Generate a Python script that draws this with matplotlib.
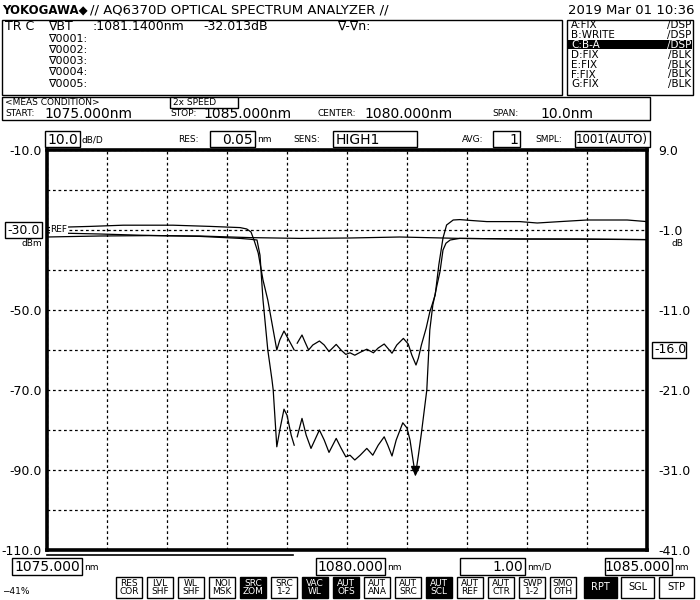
import matplotlib
matplotlib.use("Agg")
import matplotlib.pyplot as plt
import matplotlib.transforms as mtransforms
from matplotlib.patches import Rectangle
import numpy as np

# Шрифт прибора узкий, поэтому пробуем узкие семейства
FONT = ['Liberation Sans Narrow', 'DejaVu Sans']
plt.rcParams['font.family'] = FONT

nan = np.nan

# Трасса A - опорный спектр (почти ровная)
wl_a = [1075.00, 1075.88, 1076.72, 1077.55, 1078.38, 1079.22, 1080.05, 1080.88,
        1081.88, 1082.88, 1083.88, 1085.00]
lv_a = [-31.75, -31.50, -31.40, -31.50, -31.90, -32.10, -32.00, -31.75,
        -32.10, -32.25, -32.25, -32.40]

# Трасса B - глубокий провал
wl_b = [1075.00, 1075.88, 1076.55, 1077.55, 1078.22, 1078.38, 1078.50, 1078.55,
        1078.60, 1078.68, 1078.75, 1078.77, 1078.83, 1078.88, 1078.95, 1079.00,
        1079.07, 1079.12, nan, 1079.17, 1079.25, 1079.32, 1079.40, 1079.54,
        1079.62, 1079.70, 1079.82, 1079.90, 1079.98, 1080.05, 1080.13, 1080.22,
        1080.33, 1080.43, 1080.52, 1080.62, 1080.68, 1080.75, 1080.82, 1080.93,
        1081.00, 1081.05, 1081.10, 1081.14, 1081.19, 1081.24, 1081.33, 1081.38,
        1081.43, 1081.50, 1081.55, 1081.60, 1081.65, 1081.72, 1081.88, 1082.88,
        1083.88, 1085.00]
lv_b = [-30.7, -31.0, -31.3, -31.6, -32.1, -32.3, -32.5, -36.3,
        -47.5, -60.0, -67.5, -70.0, -84.2, -80.0, -74.8, -76.3,
        -81.3, -83.8, nan, -81.7, -77.1, -81.3, -84.6, -80.0,
        -82.5, -85.6, -82.1, -84.5, -86.7, -86.3, -87.5, -86.3,
        -84.6, -86.3, -83.8, -81.7, -83.8, -86.5, -82.5, -78.2,
        -79.5, -82.5, -87.5, -91.3, -86.3, -80.8, -70.0, -55.0,
        -48.8, -43.8, -40.4, -35.0, -33.3, -32.5, -32.1, -32.25,
        -32.3, -32.4]

# Трасса C - верхний провал
wl_c = [1075.00, 1075.72, 1076.27, 1077.10, 1077.72, 1078.22, 1078.33, 1078.40,
        1078.45, 1078.52, 1078.60, 1078.68, 1078.77, 1078.83, 1078.88, 1078.95,
        1079.03, 1079.12, nan, 1079.17, 1079.25, 1079.30, 1079.36, 1079.43,
        1079.54, 1079.62, 1079.70, 1079.82, 1079.90, 1079.98, 1080.05, 1080.13,
        1080.23, 1080.33, 1080.44, 1080.52, 1080.62, 1080.75, 1080.83, 1080.94,
        1081.02, 1081.08, 1081.15, 1081.19, 1081.24, 1081.32, 1081.38, 1081.47,
        1081.53, 1081.60, 1081.66, 1081.77, 1081.88, 1082.05, 1082.33, 1082.88,
        1083.17, 1083.55, 1084.00, 1084.67, 1085.00]
lv_c = [-29.4, -29.1, -28.8, -28.8, -29.1, -29.4, -29.75, -30.5,
        -32.5, -35.75, -42.5, -47.5, -55.0, -60.0, -57.5, -55.25,
        -57.5, -60.0, nan, -58.3, -56.25, -58.0, -60.0, -58.75,
        -57.75, -58.75, -60.4, -58.6, -60.0, -61.1, -60.7, -61.3,
        -60.5, -59.8, -60.7, -59.5, -58.5, -60.8, -58.75, -57.1,
        -58.5, -61.25, -63.75, -62.0, -58.75, -54.5, -50.5, -46.25,
        -38.75, -32.0, -28.75, -27.5, -27.4, -27.6, -27.9, -27.9,
        -28.25, -27.9, -27.5, -27.5, -27.9]

marker_wl = 1081.14

left_ticks = [-110, -100, -90, -80, -70, -60, -50, -40, -30, -20, -10]
left_labels = ['-110.0', '', '-90.0', '', '-70.0', '', '-50.0', '', '', '', '-10.0']
right_ticks = [-41, -31, -21, -11, -1, 9]
right_labels = ['-41.0', '-31.0', '-21.0', '-11.0', '-1.0', '9.0']
ref_left = -30.0
ref_right = -16.0

trace_rows = [('A:FIX', '/DSP'), ('B:WRITE', '/DSP'), ('C:B-A', '/DSP'), ('D:FIX', '/BLK'),
              ('E:FIX', '/BLK'), ('F:FIX', '/BLK'), ('G:FIX', '/BLK')]
marker_rows = ['\u22070001:', '\u22070002:', '\u22070003:', '\u22070004:', '\u22070005:']
buttons = [('RES\nCOR', 0), ('LVL\nSHF', 0), ('WL\nSHF', 0), ('NOI\nMSK', 0), ('SRC\nZOM', 1),
           ('SRC\n1-2', 0), ('VAC\nWL', 1), ('AUT\nOFS', 1), ('AUT\nANA', 0), ('AUT\nSRC', 0),
           ('AUT\nSCL', 1), ('AUT\nREF', 0), ('AUT\nCTR', 0), ('SWP\n1-2', 0), ('SMO\nOTH', 0)]

fig = plt.figure(figsize=(7, 6), dpi=100)

# Основной график (в пикселях: x 47..647, y 150..550)
ax = fig.add_axes([47 / 700, 50 / 600, 600 / 700, 400 / 600])
ax.set_xlim(1075, 1085)
ax.set_ylim(-110, -10)
ax.set_xticks(np.arange(1075, 1086, 1))
ax.set_yticks(left_ticks)
ax.set_yticklabels(left_labels, fontsize=9)
ax.tick_params(length=0, labelbottom=False, pad=4)
ax.grid(True, color='black', linestyle=(0, (2.2, 2.2)), lw=0.9)
for s in ax.spines.values():
    s.set_linewidth(2.6)

ax.plot(wl_a, lv_a, color='black', lw=0.9)
ax.plot(wl_b, lv_b, color='black', lw=0.9)
ax.plot(wl_c, lv_c, color='black', lw=0.9)
ax.plot(marker_wl, np.nanmin(lv_b) + 1.2, marker='v', color='black', ms=6)

axr = ax.twinx()
axr.set_ylim(-41, 9)
axr.set_yticks(right_ticks)
axr.set_yticklabels(right_labels, fontsize=9)
axr.tick_params(length=0, pad=8)
for s in axr.spines.values():
    s.set_visible(False)

# опорные уровни
ax.text(0.006, ref_left, 'REF', transform=mtransforms.blended_transform_factory(ax.transAxes, ax.transData),
        fontsize=6.5, family='DejaVu Sans', va='center', ha='left',
        bbox=dict(facecolor='white', edgecolor='none', pad=0.3))
axr.text(1.012, ref_right, '-16.0', transform=mtransforms.blended_transform_factory(axr.transAxes, axr.transData),
         fontsize=9, ha='left', va='center')

# Слой для надписей в пиксельных координатах
ov = fig.add_axes([0, 0, 1, 1], zorder=5)
ov.set_xlim(0, 700)
ov.set_ylim(600, 0)
ov.axis('off')


def txt(x, y, s, size=9, ha='left', color='black', **kw):
    ov.text(x, y, s, fontsize=size, ha=ha, va='center', color=color, **kw)


def box(x0, y0, x1, y1, fill=False, lw=1.0, face='white'):
    ov.add_patch(Rectangle((x0, y0), x1 - x0, y1 - y0, lw=lw, edgecolor='black',
                           facecolor='black' if fill else face))


def boxed(x0, y0, x1, y1, s, size=10, ha='right'):
    box(x0, y0, x1, y1)
    if ha == 'right':
        txt(x1 - 2, (y0 + y1) / 2 + 0.5, s, size=size, ha='right')
    else:
        txt((x0 + x1) / 2, (y0 + y1) / 2 + 0.5, s, size=size, ha='center')


# Шапка
txt(2, 10, 'YOKOGAWA\u25c6', size=8.5, weight='bold', family='DejaVu Sans')
txt(90, 10, '// AQ6370D OPTICAL SPECTRUM ANALYZER //', size=9.5)
txt(695, 10, '2019 Mar 01 10:36', size=9.5, ha='right')

box(2, 20, 562, 95)
txt(5, 26, 'TR C', size=9)
txt(48, 26, '\u2207BT', size=9)
txt(92, 26, ':1081.1400nm', size=9)
txt(203, 26, '-32.013dB', size=9)
txt(337, 26, '\u2207-\u2207n:', size=9)
for i, r in enumerate(marker_rows):
    txt(48, 38.5 + i * 11.3, r, size=8)

box(567, 20, 693, 95)
for i, (a, b) in enumerate(trace_rows):
    y = 25 + i * 9.9
    col = 'black'
    if i == 2:
        ov.add_patch(Rectangle((568, y - 4.6), 124, 9.2, facecolor='black', edgecolor='none'))
        col = 'white'
    txt(571, y, a, size=7.5, color=col, family='DejaVu Sans')
    txt(691, y, b, size=7.5, color=col, ha='right', family='DejaVu Sans')

# Условия измерения
box(2, 97, 650, 120)
txt(5, 102.5, '<MEAS CONDITION>', size=6.5, family='DejaVu Sans')
box(170, 97, 238, 108)
txt(173, 102.5, '2x SPEED', size=6.5, family='DejaVu Sans')
txt(5, 114, 'START:', size=6.5, family='DejaVu Sans')
txt(44, 114, '1075.000nm', size=10)
txt(170, 114, 'STOP:', size=6.5, family='DejaVu Sans')
txt(203, 114, '1085.000nm', size=10)
txt(318, 114, 'CENTER:', size=6.5, family='DejaVu Sans')
txt(364, 114, '1080.000nm', size=10)
txt(492, 114, 'SPAN:', size=6.5, family='DejaVu Sans')
txt(540, 114, '10.0nm', size=10)

# Строка настроек
boxed(45, 131, 80, 147, '10.0')
txt(82, 140, 'dB/D', size=6.5, family='DejaVu Sans')
txt(178, 140, 'RES:', size=6.5, family='DejaVu Sans')
boxed(210, 131, 255, 147, '0.05')
txt(257, 140, 'nm', size=6.5, family='DejaVu Sans')
txt(293, 140, 'SENS:', size=6.5, family='DejaVu Sans')
box(333, 131, 417, 147)
txt(336, 139.5, 'HIGH1', size=10)
txt(462, 140, 'AVG:', size=6.5, family='DejaVu Sans')
boxed(493, 131, 520, 147, '1')
txt(535, 140, 'SMPL:', size=6.5, family='DejaVu Sans')
boxed(575, 131, 650, 147, '1001(AUTO)', size=8.5)

# Рамки вокруг опорных уровней
box(5, 222, 42, 238, face='none')
txt(40, 230.5, '-30.0', size=9, ha='right')
txt(42, 244, 'dBm', size=6.5, ha='right', family='DejaVu Sans')
box(652, 342, 686, 358, face='none')
txt(672, 243, 'dB', size=6.5, family='DejaVu Sans')

# Полоса прогресса
ov.plot([47, 293], [555, 555], color='black', lw=1.2)

# Нижняя строка длин волн
boxed(12, 558, 82, 575, '1075.000')
txt(84, 567, 'nm', size=6.5, family='DejaVu Sans')
boxed(316, 558, 385, 575, '1080.000')
txt(387, 567, 'nm', size=6.5, family='DejaVu Sans')
boxed(460, 558, 525, 575, '1.00')
txt(527, 567, 'nm/D', size=6.5, family='DejaVu Sans')
boxed(605, 558, 672, 575, '1085.000')
txt(674, 567, 'nm', size=6.5, family='DejaVu Sans')

txt(2, 591, '\u221241%', size=6.5, family='DejaVu Sans')

# Кнопки
for i, (lab, inv) in enumerate(buttons):
    x0 = 116 + i * 31
    box(x0, 577, x0 + 26, 598, fill=bool(inv))
    ov.text(x0 + 13, 587.5, lab, fontsize=6.5, family='DejaVu Sans', ha='center', va='center',
            color='white' if inv else 'black', linespacing=0.8)
for lab, x0, x1, inv in [('RPT', 584, 617, 1), ('SGL', 621, 654, 0), ('STP', 659, 694, 0)]:
    box(x0, 577, x1, 598, fill=bool(inv))
    ov.text((x0 + x1) / 2, 587.5, lab, fontsize=7, family='DejaVu Sans', ha='center', va='center',
            color='white' if inv else 'black')

fig.savefig('out.png', dpi=100, facecolor='white')
